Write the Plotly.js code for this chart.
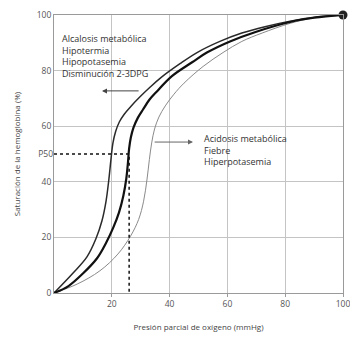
<!DOCTYPE html>
<html>
<head>
<meta charset="utf-8">
<script src="https://cdn.plot.ly/plotly-3.0.1.min.js"></script>
<style>html,body{margin:0;padding:0;background:#fff;}#chart{width:350px;height:338px;}</style>
</head>
<body>
<div id="chart"></div>
<script>
// Alcalosis (desviación a la izquierda)
const leftX  = [0, 6.6, 11.4, 14.5, 16.6, 18.0, 19.0, 19.7, 20.4, 21.3, 22.6, 24.3, 26.5, 29.5, 33.2, 37.0, 43.6, 49.5, 57.4, 65.0, 73.0, 81.7, 90.0, 100];
const leftY  = [0, 7.2, 13.0, 19.5, 26.0, 33.0, 41.0, 48.0, 54.0, 58.0, 61.5, 64.3, 67.0, 70.3, 74.0, 77.5, 82.5, 86.5, 90.5, 93.5, 95.8, 97.8, 99.2, 100];
// Curva normal
const normX  = [0, 5.0, 10.0, 14.9, 18.0, 20.5, 22.5, 24.0, 25.0, 25.6, 26.0, 26.6, 27.5, 29.0, 30.8, 33.0, 35.6, 40.8, 47.8, 52.9, 60.9, 70.0, 81.7, 90.0, 100];
const normY  = [0, 2.5, 7.0, 12.5, 18.0, 23.5, 29.0, 35.0, 41.0, 47.0, 52.0, 56.0, 59.5, 63.0, 66.0, 69.5, 72.5, 78.0, 83.0, 86.5, 90.5, 94.0, 97.5, 99.0, 100];
// Acidosis (desviación a la derecha)
const rightX = [0, 8.0, 15.9, 22.1, 26.5, 29.3, 31.0, 32.2, 33.0, 33.8, 34.8, 36.3, 38.5, 41.5, 45.0, 51.6, 58.5, 65.0, 72.0, 81.7, 90.0, 100];
const rightY = [0, 3.2, 8.0, 14.0, 20.5, 26.5, 33.0, 41.0, 48.0, 54.0, 59.0, 63.3, 67.3, 71.5, 75.5, 81.5, 86.5, 90.5, 93.5, 97.0, 99.0, 100];
// P50
const p50X = [0, 26, 26];
const p50Y = [50, 50, 0];
const endX = [100];
const endY = [100];

const xTicks = [20, 40, 60, 80, 100];
const yTicks = [0, 20, 40, 60, 80, 100];
const leftText = ["Alcalosis metabólica", "Hipotermia", "Hipopotasemia", "Disminución 2-3DPG"];
const rightText = ["Acidosis metabólica", "Fiebre", "Hiperpotasemia"];

const FONT = "Open Sans, Noto Sans, sans-serif";

const traces = [
  {x: rightX, y: rightY, mode: 'lines', line: {color: '#8a8a8a', width: 1, shape: 'spline', smoothing: 1}, hoverinfo: 'skip'},
  {x: leftX, y: leftY, mode: 'lines', line: {color: '#2a2a2a', width: 1.5, shape: 'spline', smoothing: 1}, hoverinfo: 'skip'},
  {x: normX, y: normY, mode: 'lines', line: {color: '#111', width: 2.2, shape: 'spline', smoothing: 1}, hoverinfo: 'skip'},
  {x: p50X, y: p50Y, mode: 'lines', line: {color: '#111', width: 1.5, dash: 'dot'}, hoverinfo: 'skip'},
  {x: endX, y: endY, mode: 'markers', marker: {color: '#222', size: 9}, cliponaxis: false, hoverinfo: 'skip'},
  {x: [0], y: [50], yaxis: 'y2', mode: 'markers', marker: {opacity: 0}, hoverinfo: 'skip'}
];

const layout = {
  width: 350, height: 338,
  margin: {l: 54, r: 7, t: 15, b: 45},
  paper_bgcolor: '#fff', plot_bgcolor: '#fff',
  showlegend: false,
  font: {family: FONT, color: '#444', size: 8},
  xaxis: {
    range: [0, 100], tickvals: xTicks, ticktext: xTicks.map(String),
    ticklabeloverflow: 'allow',
    showgrid: true, gridcolor: '#c4c4c4', gridwidth: 1,
    showline: true, linecolor: '#9a9a9a', linewidth: 1, mirror: true,
    zeroline: false, ticks: 'outside', ticklen: 3, tickcolor: '#9a9a9a',
    tickfont: {size: 8.5, color: '#555'},
    title: {text: 'Presión parcial de oxígeno (mmHg)', font: {size: 8, color: '#444'}, standoff: 16}
  },
  yaxis: {
    range: [0, 100], tickvals: yTicks, ticktext: yTicks.map(String),
    showgrid: true, gridcolor: '#c4c4c4', gridwidth: 1,
    showline: true, linecolor: '#9a9a9a', linewidth: 1, mirror: true,
    zeroline: false, ticks: '', tickfont: {size: 8.5, color: '#555'},
    title: {text: 'Saturación de la hemoglobina (%)', font: {size: 8, color: '#444'}, standoff: 14}
  },
  yaxis2: {
    range: [0, 100], overlaying: 'y', side: 'left', tickvals: [50], ticktext: ['P50'],
    showgrid: false, zeroline: false, showline: false, ticks: '',
    tickfont: {size: 8.5, color: '#555'}
  },
  annotations: [
    {x: 2.1, y: 94.5, xref: 'x', yref: 'y', xanchor: 'left', yanchor: 'top', align: 'left',
     text: leftText.join('<br>'), showarrow: false, font: {size: 9, color: '#333', family: FONT}},
    {x: 51.2, y: 58.6, xref: 'x', yref: 'y', xanchor: 'left', yanchor: 'top', align: 'left',
     text: rightText.join('<br>'), showarrow: false, font: {size: 9, color: '#333', family: FONT}},
    {x: 16.6, y: 72.7, ax: 29.8, ay: 72.7, xref: 'x', yref: 'y', axref: 'x', ayref: 'y',
     text: '', showarrow: true, arrowhead: 2, arrowsize: 1, arrowwidth: 1, arrowcolor: '#444'},
    {x: 48.1, y: 54.3, ax: 34.3, ay: 54.3, xref: 'x', yref: 'y', axref: 'x', ayref: 'y',
     text: '', showarrow: true, arrowhead: 2, arrowsize: 1, arrowwidth: 1, arrowcolor: '#666'}
  ]
};

Plotly.newPlot('chart', traces, layout, {staticPlot: true, displayModeBar: false});
</script>
</body>
</html>
